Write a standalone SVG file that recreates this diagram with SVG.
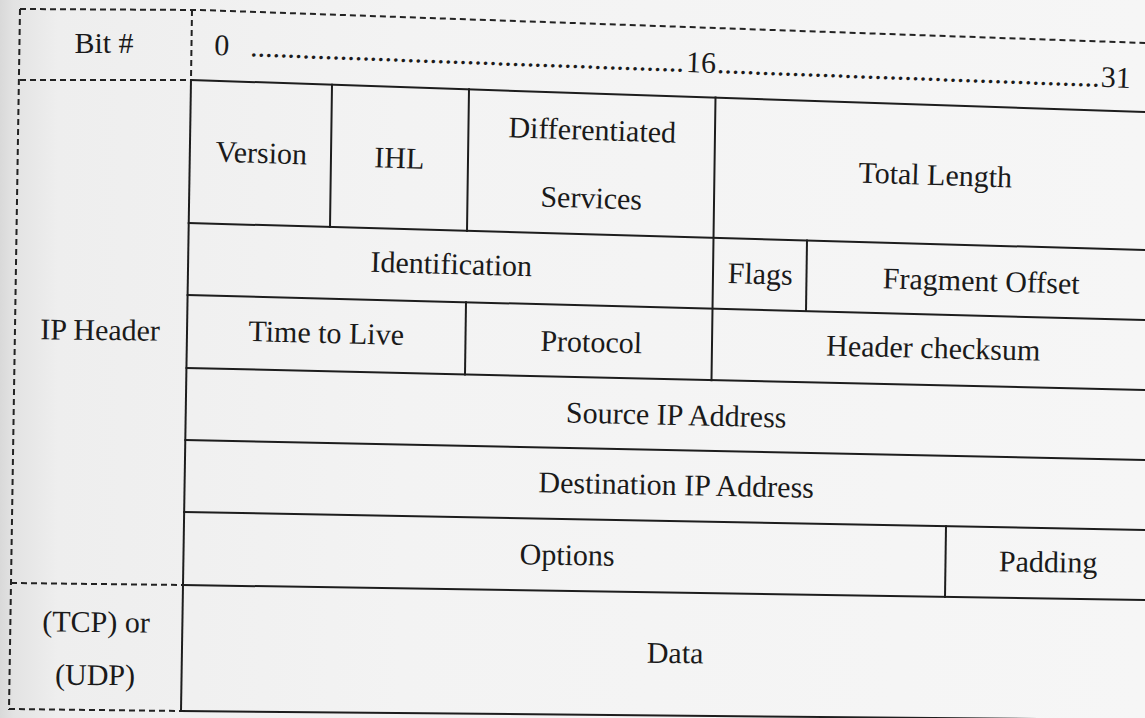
<svg xmlns="http://www.w3.org/2000/svg" width="1145" height="718" viewBox="0 0 1145 718">
  <defs>
    <linearGradient id="paper" x1="0" y1="0" x2="1" y2="0">
      <stop offset="0" stop-color="#d9d9d9"/>
      <stop offset="0.012" stop-color="#e3e3e3"/>
      <stop offset="0.05" stop-color="#eeeeee"/>
      <stop offset="0.35" stop-color="#f3f3f3"/>
      <stop offset="1" stop-color="#f6f6f6"/>
    </linearGradient>
    <style>
      .solid { fill: none; stroke: #1d1d1d; stroke-width: 2; stroke-linecap: square; }
      .dash { fill: none; stroke: #222; stroke-width: 2; stroke-dasharray: 6 4; }
      .lbl { font-family: "Liberation Serif", "Times New Roman", serif; font-size: 30px; fill: #1a1a1a; text-anchor: middle; }
      .bits { font-family: "Liberation Serif", "Times New Roman", serif; font-size: 30px; fill: #1a1a1a; }
    </style>
  </defs>

  <!-- page background -->
  <rect x="0" y="0" width="1145" height="718" fill="url(#paper)"/>

  <!-- table rules -->
  <g id="connectors">
    <!-- dashed frame of the label column and bit row -->
    <polyline class="dash" points="20,9 200,10 1145,43"/>
    <line class="dash" x1="20" y1="9" x2="9" y2="710"/>
    <line class="dash" x1="192" y1="10" x2="191" y2="80"/>
    <line class="dash" x1="20" y1="80" x2="190" y2="80"/>
    <line class="dash" x1="11" y1="583" x2="182" y2="585"/>
    <line class="dash" x1="9" y1="709" x2="181" y2="711"/>

    <!-- solid outline and row separators -->
    <line class="solid" x1="191" y1="80" x2="181" y2="711"/>
    <line class="solid" x1="191" y1="80" x2="1145" y2="112"/>
    <line class="solid" x1="188.7" y1="223" x2="1145" y2="250"/>
    <line class="solid" x1="187.6" y1="295" x2="1145" y2="320"/>
    <line class="solid" x1="186.5" y1="368" x2="1145" y2="390"/>
    <line class="solid" x1="185.4" y1="440" x2="1145" y2="460"/>
    <line class="solid" x1="184.2" y1="512" x2="1145" y2="530"/>
    <line class="solid" x1="183.1" y1="585" x2="1145" y2="600"/>
    <line class="solid" x1="181" y1="711" x2="1145" y2="720"/>

    <!-- field separators -->
    <line class="solid" x1="332" y1="84.7" x2="330" y2="227"/>
    <line class="solid" x1="469" y1="89.3" x2="467" y2="230.9"/>
    <line class="solid" x1="715.5" y1="97.6" x2="711.5" y2="380.3"/>
    <line class="solid" x1="807" y1="240.5" x2="806" y2="311.1"/>
    <line class="solid" x1="466" y1="302.3" x2="465" y2="374.4"/>
    <line class="solid" x1="946" y1="526.3" x2="945" y2="596.9"/>
  </g>

  <!-- label column -->
  <g id="bit-label"><text class="lbl" x="104" y="53">Bit #</text></g>
  <g id="ip-header-label"><text class="lbl" x="100" y="340" transform="rotate(0.6 100 340)">IP Header</text></g>
  <g id="transport-label">
    <text class="lbl" x="96" y="632" transform="rotate(0.5 96 632)">(TCP) or</text>
    <text class="lbl" x="95" y="685" transform="rotate(0.5 95 685)">(UDP)</text>
  </g>

  <!-- bit ruler -->
  <g id="bit-ruler" transform="rotate(2.06 215 55)">
    <text class="bits" x="214" y="55">0</text>
    <text class="bits" x="250" y="55" textLength="434" lengthAdjust="spacing">..........................................................</text>
    <text class="bits" x="686" y="55">16</text>
    <text class="bits" x="717" y="55" textLength="383" lengthAdjust="spacing">...................................................</text>
    <text class="bits" x="1101" y="55">31</text>
  </g>

  <!-- word 1 -->
  <g id="version"><text class="lbl" x="261" y="163" transform="rotate(1.8 261 163)">Version</text></g>
  <g id="ihl"><text class="lbl" x="399" y="168" transform="rotate(1.8 399 168)">IHL</text></g>
  <g id="diffserv">
    <text class="lbl" x="592" y="140" transform="rotate(1.8 592 140)">Differentiated</text>
    <text class="lbl" x="591" y="208" transform="rotate(1.8 591 208)">Services</text>
  </g>
  <g id="total-length"><text class="lbl" x="935" y="185" transform="rotate(1.8 935 185)">Total Length</text></g>

  <!-- word 2 -->
  <g id="identification"><text class="lbl" x="451" y="274" transform="rotate(1.6 451 274)">Identification</text></g>
  <g id="flags"><text class="lbl" x="760" y="284" transform="rotate(1.6 760 284)">Flags</text></g>
  <g id="fragment-offset"><text class="lbl" x="981" y="291" transform="rotate(1.6 981 291)">Fragment Offset</text></g>

  <!-- word 3 -->
  <g id="ttl"><text class="lbl" x="326" y="343" transform="rotate(1.4 326 343)">Time to Live</text></g>
  <g id="protocol"><text class="lbl" x="591" y="352" transform="rotate(1.4 591 352)">Protocol</text></g>
  <g id="header-checksum"><text class="lbl" x="933" y="358" transform="rotate(1.4 933 358)">Header checksum</text></g>

  <!-- words 4 and 5 -->
  <g id="source-address"><text class="lbl" x="676" y="425" transform="rotate(1.25 676 425)">Source IP Address</text></g>
  <g id="destination-address"><text class="lbl" x="676" y="495" transform="rotate(1.1 676 495)">Destination IP Address</text></g>

  <!-- word 6 -->
  <g id="options"><text class="lbl" x="567" y="565" transform="rotate(0.95 567 565)">Options</text></g>
  <g id="padding"><text class="lbl" x="1048" y="572" transform="rotate(0.95 1048 572)">Padding</text></g>

  <!-- payload -->
  <g id="data"><text class="lbl" x="675" y="663" transform="rotate(0.6 675 663)">Data</text></g>
</svg>
